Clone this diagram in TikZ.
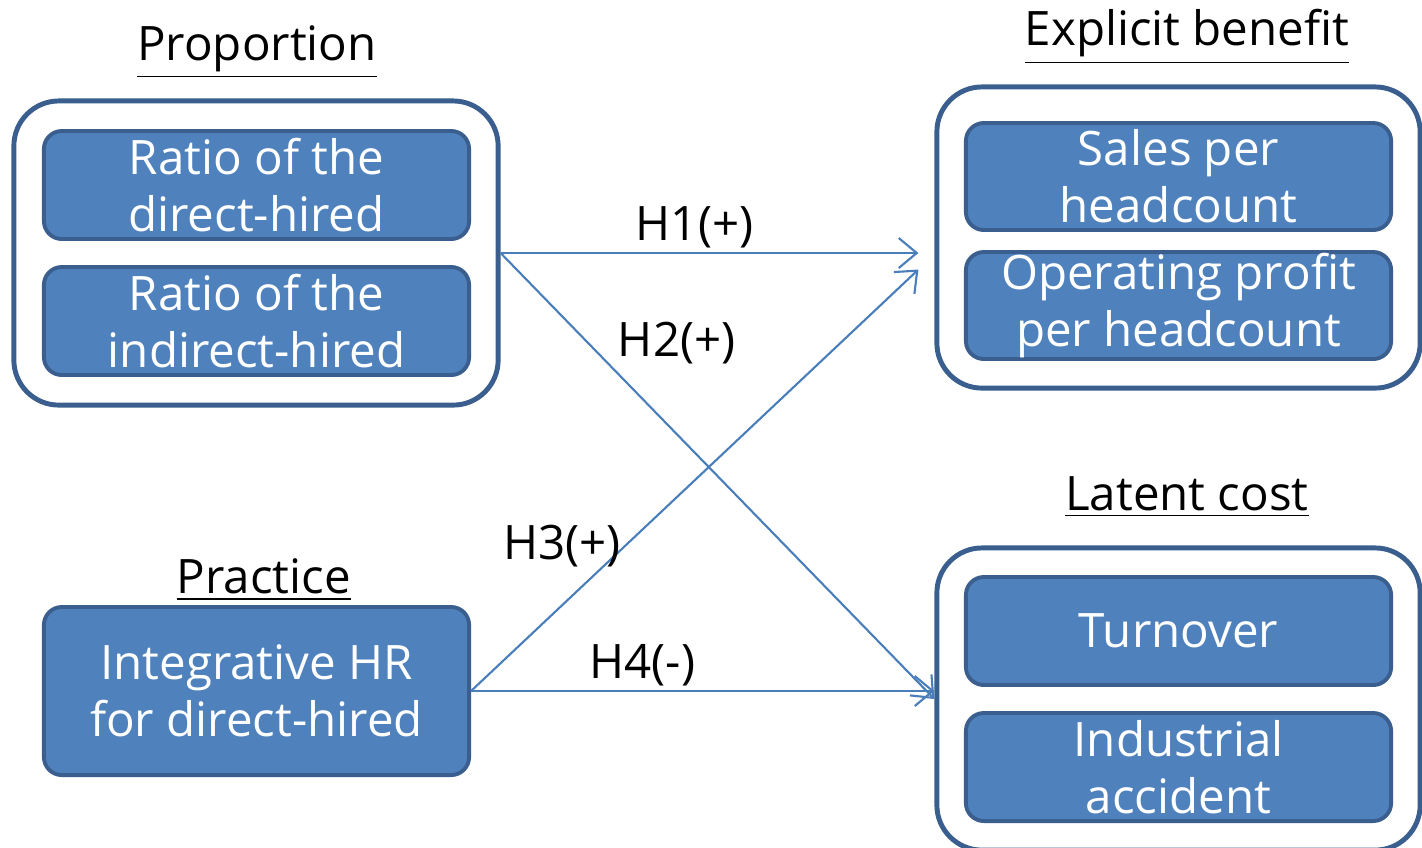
\documentclass[tikz,border=0pt]{standalone}
\usepackage{fontspec}
\setmainfont{Open Sans}
\usepackage{tikz}
\usetikzlibrary{positioning, calc, arrows.meta}
\definecolor{boxfill}{HTML}{4F81BD}
\definecolor{boxline}{HTML}{3A5F8E}
\definecolor{arrowline}{HTML}{4A7EBB}

\begin{document}
\begin{tikzpicture}[x=0.01cm, y=-0.01cm, font=\fontsize{13.5}{16.2}\selectfont]
\tikzstyle{group}=[draw=boxline, line width=1.4pt, rounded corners=0.45cm, fill=white]
\tikzstyle{item}=[draw=boxline, line width=1.1pt, rounded corners=0.18cm, fill=boxfill,
text=white, align=center, minimum width=4.25cm, minimum height=1.08cm, inner sep=0pt]
\tikzstyle{title}=[inner sep=0pt, text=black]
\tikzstyle{hyp}=[draw=arrowline, line width=0.6pt, -{Straight Barb[length=0.18cm, width=0.3cm]}]
\tikzstyle{hlabel}=[inner sep=1pt, text=black]

\useasboundingbox (0,0) rectangle (1422,847);

% groups
\node (prop) at (256,253) [group, minimum width=4.84cm, minimum height=3.04cm] {};
\node (benefit) at (1178.5,237.5) [group, minimum width=4.83cm, minimum height=3.01cm] {};
\node (cost) at (1178.5,699) [group, minimum width=4.83cm, minimum height=3.02cm] {};

% titles
\node (proptitle) at (257,52) [title] {\underline{Proportion}};
\node (practitle) at (264,580) [title] {\underline{Practice}};
\node (benetitle) at (1187,37) [title] {\underline{Explicit benefit}};
\node (costtitle) at (1187,497) [title] {\underline{Latent cost}};

% items
\node (direct) at (256.5,185) [item] {Ratio of the\\direct-hired};
\node (indirect) at (256.5,321) [item] {Ratio of the\\indirect-hired};
\node (practice) at (256.5,691) [item, minimum height=1.68cm] {Integrative HR\\for direct-hired};
\node (sales) at (1178.5,176.5) [item, minimum height=1.07cm] {Sales per\\headcount};
\node (profit) at (1178.5,305.5) [item, minimum height=1.07cm] {Operating profit\\per headcount};
\node (turnover) at (1178.5,631) [item] {Turnover};
\node (accident) at (1178.5,767) [item] {Industrial\\accident};

\coordinate (h3end) at ($(benefit.west)+(-16,32)$);

% hypotheses
\draw[hyp, shorten >=0.16cm] (prop.east) -- node[hlabel, pos=0.447, above] {H1(+)} (prop.east -| benefit.west);
\draw[hyp] (prop.east) -- node[hlabel, pos=0.26, anchor=south west] {H2(+)} (cost.west);
\draw[hyp] (practice.east) -- node[hlabel, pos=0.345, anchor=east] {H3(+)} (h3end);
\draw[hyp] (practice.east) -- node[hlabel, pos=0.37, above] {H4(-)} (practice.east -| cost.west);

\end{tikzpicture}
\end{document}
